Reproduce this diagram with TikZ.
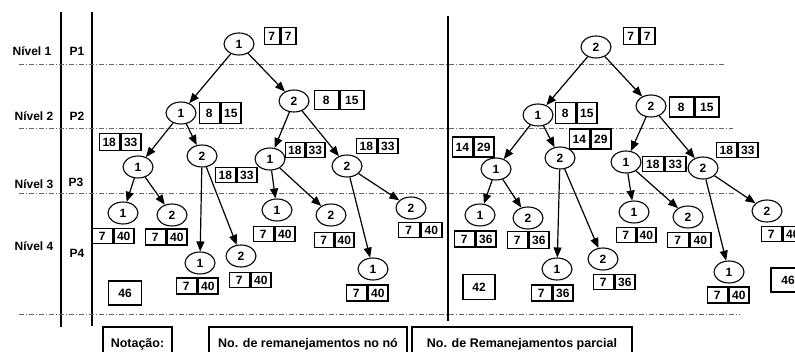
\documentclass[tikz,border=0pt]{standalone}
\usepackage{fontspec}
\setmainfont{Liberation Sans}
\usetikzlibrary{shapes.geometric,arrows.meta}

% two-cell value box: name, x, y, left value, right value, cell width, height
\newcommand\pairbox[7]{%
  \node[cell,minimum width=#6,minimum height=#7,anchor=east] (#1a) at (#2,#3) {#4};
  \node[cell,minimum width=#6,minimum height=#7,anchor=west] (#1b) at (#2,#3) {#5};}

\tikzset{
  tn/.style={ellipse,draw,line width=1.1pt,minimum width=30pt,minimum height=22pt,
    inner sep=0pt,font=\bfseries\fontsize{12}{13}\selectfont},
  cell/.style={draw,line width=1.5pt,inner sep=0pt,font=\bfseries\fontsize{12}{13}\selectfont},
  tot/.style={cell,minimum width=33pt,minimum height=24pt},
  edge/.style={line width=1.2pt,-{Triangle[length=10pt,width=8pt]}},
  levelline/.style={dash pattern=on 5pt off 2pt on 1pt off 2pt,line width=0.8pt,black!60},
  lab/.style={font=\bfseries\fontsize{12}{14}\selectfont,inner sep=0pt},
  legend/.style={draw,line width=1.5pt,minimum height=34pt,inner sep=0pt,
    font=\bfseries\fontsize{12.5}{15}\selectfont},
}

\begin{document}
\begin{tikzpicture}[x=1pt,y=-1pt]
\useasboundingbox (0,0) rectangle (795,352);
\clip (0,0) rectangle (795,352);

% column separators
\draw[line width=1.2pt] (61,12) -- (61,327);
\draw[line width=1.2pt] (92,12) -- (92,326);
\draw[line width=2pt] (448,16) -- (448,321);

% level boundaries
\draw[levelline] (19,64) -- (725,64);
\draw[levelline] (19,128) -- (733,128);
\draw[levelline] (19,193) -- (735,193);
\draw[levelline] (19,314) -- (740,314);

% level / stage labels
\node[lab] (n1) at (32,51) {Nível 1};
\node[lab] (p1) at (77,51) {P1};
\node[lab] (n2) at (34,116) {Nível 2};
\node[lab] (p2) at (77,116) {P2};
\node[lab] (n3) at (34,184) {Nível 3};
\node[lab] (p3) at (76,182) {P3};
\node[lab] (n4) at (34,246) {Nível 4};
\node[lab] (p4) at (77,253) {P4};

% ---------- first tree ----------
\node[tn] (a0) at (239,44) {1};
\node[tn] (a1) at (181,113) {1};
\node[tn] (a2) at (294,101) {2};
\node[tn] (a11) at (138,167) {1};
\node[tn] (a12) at (202,156) {2};
\node[tn] (a21) at (270,159) {1};
\node[tn] (a22) at (347,166) {2};
\node[tn] (a111) at (123,213) {1};
\node[tn] (a112) at (172,215) {2};
\node[tn] (a121) at (200,263) {1};
\node[tn] (a122) at (241,256) {2};
\node[tn] (a211) at (277,210) {1};
\node[tn] (a212) at (331,215) {2};
\node[tn] (a221) at (373,269) {1};
\node[tn] (a222) at (411,208) {2};

\draw[edge] (a0) -- (a1);
\draw[edge] (a0) -- (a2);
\draw[edge] (a1) -- (a11);
\draw[edge] (a1) -- (a12);
\draw[edge] (a2) -- (a21);
\draw[edge] (a2) -- (a22);
\draw[edge] (a11) -- (a111);
\draw[edge] (a11) -- (a112);
\draw[edge] (a12) -- (a121);
\draw[edge] (a12) -- (a122);
\draw[edge] (a21) -- (a211);
\draw[edge] (a21) -- (a212);
\draw[edge] (a22) -- (a221);
\draw[edge] (a22) -- (a222);

\pairbox{ba0}{280}{36}{7}{7}{15}{17}
\pairbox{ba1}{220}{113}{8}{15}{20}{21}
\pairbox{ba2}{339}{100}{8}{15}{24}{19}
\pairbox{ba11}{120}{142}{18}{33}{20}{17}
\pairbox{ba12}{236}{175}{18}{33}{20}{15}
\pairbox{ba21}{305}{150}{18}{33}{19}{15}
\pairbox{ba22}{377}{146}{18}{33}{20}{15}
\pairbox{ba111}{113}{236}{7}{40}{20}{15}
\pairbox{ba112}{166}{237}{7}{40}{20}{16}
\pairbox{ba121}{197}{286}{7}{40}{20}{16}
\pairbox{ba122}{250}{280}{7}{40}{20}{15}
\pairbox{ba211}{274}{234}{7}{40}{20}{15}
\pairbox{ba212}{334}{240}{7}{40}{19}{15}
\pairbox{ba221}{367}{293}{7}{40}{20}{16}
\pairbox{ba222}{420}{230}{7}{40}{21}{15}
\node[tot] (ta) at (125,293) {46};

% ---------- second tree ----------
\node[tn] (b0) at (596,47) {2};
\node[tn] (b1) at (538,115) {1};
\node[tn] (b2) at (651,106) {2};
\node[tn] (b11) at (496,169) {1};
\node[tn] (b12) at (560,158) {2};
\node[tn] (b21) at (626,162) {1};
\node[tn] (b22) at (703,168) {2};
\node[tn] (b111) at (480,215) {1};
\node[tn] (b112) at (528,218) {2};
\node[tn] (b121) at (557,269) {1};
\node[tn] (b122) at (603,259) {2};
\node[tn] (b211) at (634,212) {1};
\node[tn] (b212) at (688,217) {2};
\node[tn] (b221) at (729,272) {1};
\node[tn] (b222) at (767,211) {2};

\draw[edge] (b0) -- (b1);
\draw[edge] (b0) -- (b2);
\draw[edge] (b1) -- (b11);
\draw[edge] (b1) -- (b12);
\draw[edge] (b2) -- (b21);
\draw[edge] (b2) -- (b22);
\draw[edge] (b11) -- (b111);
\draw[edge] (b11) -- (b112);
\draw[edge] (b12) -- (b121);
\draw[edge] (b12) -- (b122);
\draw[edge] (b21) -- (b211);
\draw[edge] (b21) -- (b212);
\draw[edge] (b22) -- (b221);
\draw[edge] (b22) -- (b222);

\pairbox{bb0}{639}{36}{7}{7}{15}{17}
\pairbox{bb1}{576}{113}{8}{15}{20}{21}
\pairbox{bb2}{694}{107}{8}{15}{24}{20}
\pairbox{bb11}{473}{147}{14}{29}{20}{20}
\pairbox{bb12}{590}{139}{14}{29}{20}{20}
\pairbox{bb21}{664}{164}{18}{33}{21}{15}
\pairbox{bb22}{737}{150}{18}{33}{20}{15}
\pairbox{bb111}{475}{239}{7}{36}{20}{16}
\pairbox{bb112}{528}{240}{7}{36}{20}{17}
\pairbox{bb121}{552}{293}{7}{36}{20}{16}
\pairbox{bb122}{614}{282}{7}{36}{20}{15}
\pairbox{bb211}{636}{235}{7}{40}{19}{15}
\pairbox{bb212}{689}{240}{7}{40}{21}{15}
\pairbox{bb221}{728}{295}{7}{40}{20}{16}
\pairbox{bb222}{782}{234}{7}{40}{20}{15}
\node[tot,minimum width=32pt,minimum height=25pt] (tb) at (479,287) {42};
\node[tot,minimum width=34pt] (tc) at (788,280) {46};

% ---------- notation ----------
\node[legend,minimum width=69pt] (not) at (137.5,344) {Notação:};
\node[legend,minimum width=198pt] (lno) at (308,344) {No. de remanejamentos no nó};
\node[legend,minimum width=220pt] (lpa) at (522,344) {No. de Remanejamentos parcial};
\end{tikzpicture}
\end{document}
